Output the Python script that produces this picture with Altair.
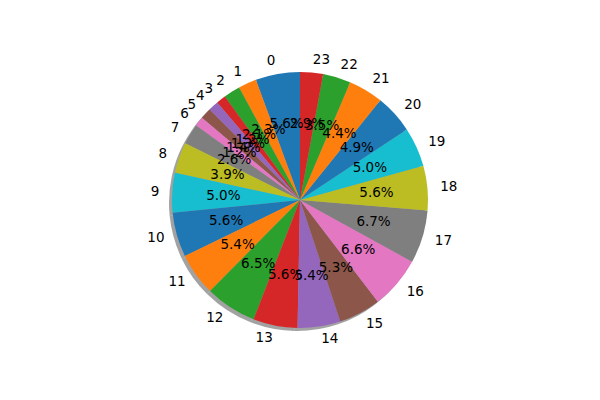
import altair as alt
import pandas as pd

labels = [str(i) for i in range(24)]
values = [5.6, 2.3, 2.1, 1.2, 1.3, 1.4, 1.2, 2.6, 3.9, 5.0, 5.6, 5.4,
          6.5, 5.6, 5.4, 5.3, 6.6, 6.7, 5.6, 5.0, 4.9, 4.4, 3.5, 2.9]
tab10 = ["#1f77b4", "#ff7f0e", "#2ca02c", "#d62728", "#9467bd",
         "#8c564b", "#e377c2", "#7f7f7f", "#bcbd22", "#17becf"]

df = pd.DataFrame({
    "label": labels,
    "value": values,
    "ord": [23 - i for i in range(24)],
    "idx": list(range(24)),
    "pct": [f"{v:.1f}%" for v in values],
    "side": ["L" if i <= 13 else "R" for i in range(24)],
})

colors = [tab10[i % 10] for i in range(24)]

CX, CY, R = 292, 192, 128
font = "DejaVu Sans"

base = alt.Chart(df).encode(
    theta=alt.Theta("value:Q", stack=True),
    order=alt.Order("ord:Q"),
)

shadow = base.mark_arc(outerRadius=R, color="#555555", opacity=0.55).encode(
    x=alt.value(CX - 3), y=alt.value(CY + 3)
)

pie = base.mark_arc(outerRadius=R).encode(
    x=alt.value(CX), y=alt.value(CY),
    color=alt.Color("label:N", scale=alt.Scale(domain=labels, range=colors), legend=None),
)

pct = base.mark_text(radius=R * 0.6, font=font, fontSize=13.5, color="black",
                     align="center", baseline="middle").encode(
    x=alt.value(CX), y=alt.value(CY), text="pct:N"
)

lab_l = base.mark_text(radius=R * 1.1, font=font, fontSize=13.5, color="black",
                       align="right", baseline="middle").encode(
    x=alt.value(CX), y=alt.value(CY),
    text=alt.condition("datum.side == 'L'", "label:N", alt.value("")),
)
lab_r = base.mark_text(radius=R * 1.1, font=font, fontSize=13.5, color="black",
                       align="left", baseline="middle").encode(
    x=alt.value(CX), y=alt.value(CY),
    text=alt.condition("datum.side == 'R'", "label:N", alt.value("")),
)

chart = alt.layer(shadow, pie, pct, lab_l, lab_r).properties(
    width=584, height=384, autosize="none", padding=0
).configure_view(stroke=None)

chart.save("out.html", embed_options={"renderer": "svg", "actions": False})
